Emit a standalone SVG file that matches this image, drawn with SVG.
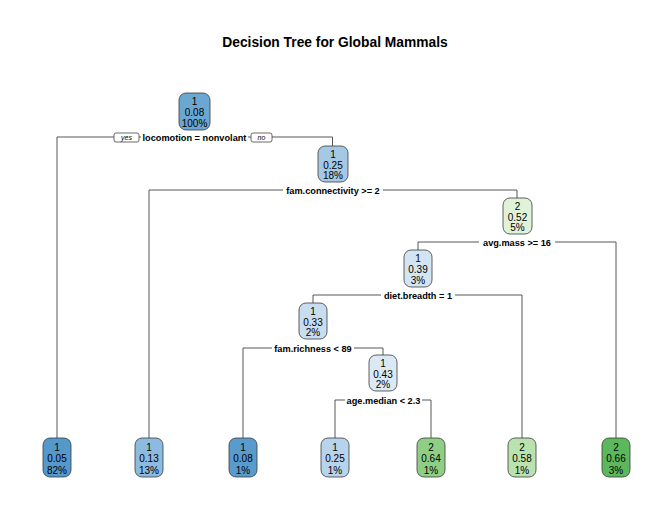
<svg xmlns="http://www.w3.org/2000/svg" width="672" height="508" viewBox="0 0 672 508">
<style>
.bg{fill:#ffffff}
.t{font-family:"Liberation Sans",Arial,sans-serif;fill:#000}
.title{font-size:13.8px;font-weight:bold;text-anchor:middle}
.nt{font-size:10px;text-anchor:middle}
.sl{font-size:9.2px;font-weight:bold;text-anchor:middle}
.yn{font-size:7px;font-style:italic;text-anchor:middle}
.box{stroke:#3a3a3a;stroke-width:0.8}
.cn{fill:none;stroke:#444;stroke-width:0.9}
.lb{fill:#ffffff}
.ynb{fill:#ffffff;stroke:#444;stroke-width:0.8}
</style>
<rect class="bg" width="672" height="508"/>
<text class="t title" x="335" y="47">Decision Tree for Global Mammals</text>

<g id="connectors">
<polyline class="cn" points="57,438 57,137 332.5,137 332.5,146"/>
<polyline class="cn" points="149,438 149,190 517,190 517,198"/>
<polyline class="cn" points="418,250 418,242 616,242 616,438"/>
<polyline class="cn" points="313,303 313,295 522,295 522,438"/>
<polyline class="cn" points="243,438 243,348 383,348 383,355"/>
<polyline class="cn" points="335,438 335,400 431,400 431,438"/>
</g>

<g id="split-labels">
<rect class="lb" x="141" y="131" width="107" height="12"/>
<text class="t sl" x="194.5" y="140.5">locomotion = nonvolant</text>
<rect class="ynb" x="114" y="133" width="25" height="9" rx="2"/>
<text class="t yn" x="126.5" y="140">yes</text>
<rect class="ynb" x="251" y="133" width="21" height="9" rx="2"/>
<text class="t yn" x="261.5" y="140">no</text>
<rect class="lb" x="283" y="184" width="100" height="12"/>
<text class="t sl" x="333" y="193.5">fam.connectivity &gt;= 2</text>
<rect class="lb" x="479" y="236" width="76" height="12"/>
<text class="t sl" x="517" y="245.5">avg.mass &gt;= 16</text>
<rect class="lb" x="381" y="289" width="74" height="12"/>
<text class="t sl" x="418" y="298.5">diet.breadth = 1</text>
<rect class="lb" x="272" y="342" width="82" height="12"/>
<text class="t sl" x="313" y="351.5">fam.richness &lt; 89</text>
<rect class="lb" x="345" y="394" width="77" height="12"/>
<text class="t sl" x="383.5" y="403.5">age.median &lt; 2.3</text>
</g>

<g id="node-root">
<rect class="box" x="179" y="93" width="31" height="37" rx="7" fill="#6aa7d2"/>
<text class="t nt" x="194.5" y="105">1</text>
<text class="t nt" x="194.5" y="116">0.08</text>
<text class="t nt" x="194.5" y="126.5">100%</text>
</g>
<g id="node-2">
<rect class="box" x="318" y="146" width="30" height="36" rx="7" fill="#a5c8e5"/>
<text class="t nt" x="333" y="157.5">1</text>
<text class="t nt" x="333" y="168.5">0.25</text>
<text class="t nt" x="333" y="179">18%</text>
</g>
<g id="node-3">
<rect class="box" x="503" y="198" width="29" height="36" rx="7" fill="#e0f2d8"/>
<text class="t nt" x="517.5" y="209.5">2</text>
<text class="t nt" x="517.5" y="220.5">0.52</text>
<text class="t nt" x="517.5" y="231">5%</text>
</g>
<g id="node-4">
<rect class="box" x="404" y="250" width="28" height="37" rx="7" fill="#d3e4f3"/>
<text class="t nt" x="418" y="262">1</text>
<text class="t nt" x="418" y="273">0.39</text>
<text class="t nt" x="418" y="283.5">3%</text>
</g>
<g id="node-5">
<rect class="box" x="299" y="303" width="28" height="36" rx="7" fill="#c9ddf0"/>
<text class="t nt" x="313" y="314.5">1</text>
<text class="t nt" x="313" y="325.5">0.33</text>
<text class="t nt" x="313" y="336">2%</text>
</g>
<g id="node-6">
<rect class="box" x="369" y="355" width="28" height="36" rx="7" fill="#dbe9f5"/>
<text class="t nt" x="383" y="366.5">1</text>
<text class="t nt" x="383" y="377.5">0.43</text>
<text class="t nt" x="383" y="388">2%</text>
</g>

<g id="leaf-1">
<rect class="box" x="43" y="438" width="28" height="39" rx="7" fill="#5598cb"/>
<text class="t nt" x="57" y="451">1</text>
<text class="t nt" x="57" y="462">0.05</text>
<text class="t nt" x="57" y="473.5">82%</text>
</g>
<g id="leaf-2">
<rect class="box" x="135" y="438" width="28" height="39" rx="7" fill="#8cbbdf"/>
<text class="t nt" x="149" y="451">1</text>
<text class="t nt" x="149" y="462">0.13</text>
<text class="t nt" x="149" y="473.5">13%</text>
</g>
<g id="leaf-3">
<rect class="box" x="229" y="438" width="28" height="39" rx="7" fill="#5a9bcd"/>
<text class="t nt" x="243" y="451">1</text>
<text class="t nt" x="243" y="462">0.08</text>
<text class="t nt" x="243" y="473.5">1%</text>
</g>
<g id="leaf-4">
<rect class="box" x="321" y="438" width="28" height="39" rx="7" fill="#b8d3ec"/>
<text class="t nt" x="335" y="451">1</text>
<text class="t nt" x="335" y="462">0.25</text>
<text class="t nt" x="335" y="473.5">1%</text>
</g>
<g id="leaf-5">
<rect class="box" x="417" y="438" width="28" height="39" rx="7" fill="#8fcf85"/>
<text class="t nt" x="431" y="451">2</text>
<text class="t nt" x="431" y="462">0.64</text>
<text class="t nt" x="431" y="473.5">1%</text>
</g>
<g id="leaf-6">
<rect class="box" x="508" y="438" width="28" height="39" rx="7" fill="#b9e2ae"/>
<text class="t nt" x="522" y="451">2</text>
<text class="t nt" x="522" y="462">0.58</text>
<text class="t nt" x="522" y="473.5">1%</text>
</g>
<g id="leaf-7">
<rect class="box" x="602" y="438" width="28" height="39" rx="7" fill="#5cb85c"/>
<text class="t nt" x="616" y="451">2</text>
<text class="t nt" x="616" y="462">0.66</text>
<text class="t nt" x="616" y="473.5">3%</text>
</g>
</svg>
